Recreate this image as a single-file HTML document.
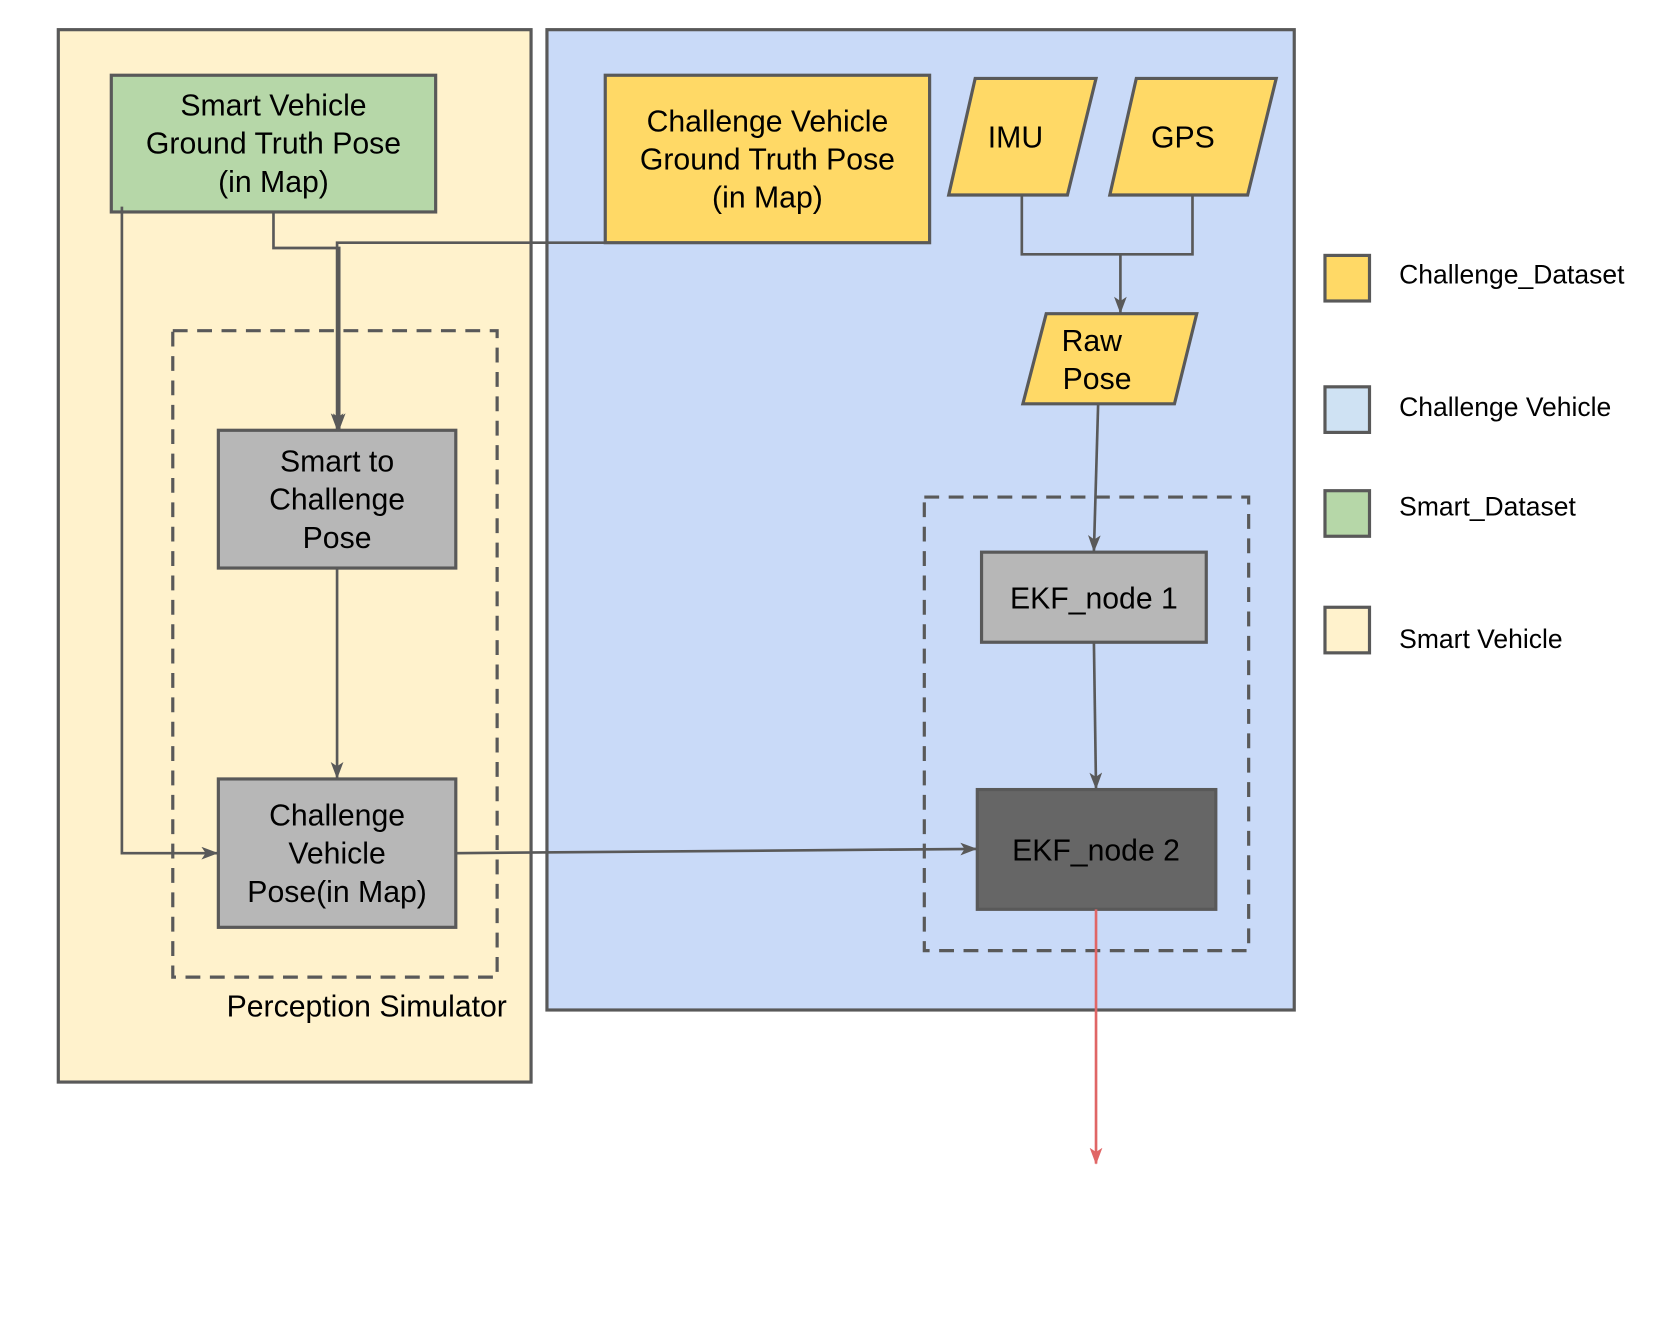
<!DOCTYPE html>
<html><head><meta charset="utf-8"><style>html,body{margin:0;padding:0;background:#fff}svg{display:block}</style></head>
<body>
<svg width="1661" height="1329" viewBox="0 0 1567 1254" preserveAspectRatio="none" xmlns="http://www.w3.org/2000/svg" font-family="Liberation Sans, sans-serif">
<defs>
<marker id="a" viewBox="0 0 16 12" refX="15" refY="6" markerWidth="16" markerHeight="12" orient="auto" markerUnits="userSpaceOnUse">
<path d="M0,0 L16,6 L0,12 L4,6 Z" fill="#595959"/>
</marker>
<marker id="r" viewBox="0 0 16 12" refX="15" refY="6" markerWidth="16" markerHeight="12" orient="auto" markerUnits="userSpaceOnUse">
<path d="M0,0 L16,6 L0,12 L4,6 Z" fill="#e06666"/>
</marker>
</defs>
<g stroke="#595959" stroke-width="3">
<rect x="55" y="28" width="446" height="993" fill="#fff2cc"/>
<rect x="516" y="28" width="705" height="925" fill="#c9daf8"/>
<rect x="105" y="71" width="306" height="129" fill="#b6d7a8"/>
<rect x="571" y="71" width="306" height="158" fill="#ffd966"/>
<polygon points="920,74 1034,74 1007,184 895,184" fill="#ffd966"/>
<polygon points="1072,74 1204,74 1177,184 1047,184" fill="#ffd966"/>
<polygon points="987,296 1129,296 1108,381 965,381" fill="#ffd966"/>
<rect x="872" y="469" width="306" height="428" fill="none" stroke-dasharray="14,9"/>
<rect x="163" y="312" width="306" height="610" fill="none" stroke-dasharray="14,9"/>
<rect x="926" y="521" width="212" height="85" fill="#b7b7b7"/>
<rect x="922" y="745" width="225" height="113" fill="#666666"/>
<rect x="206" y="406" width="224" height="130" fill="#b7b7b7"/>
<rect x="206" y="735" width="224" height="140" fill="#b7b7b7"/>
<rect x="1250" y="241" width="42" height="43" fill="#ffd966"/>
<rect x="1250" y="365" width="42" height="43" fill="#cfe2f3"/>
<rect x="1250" y="463" width="42" height="43" fill="#b6d7a8"/>
<rect x="1250" y="573" width="42" height="43" fill="#fff2cc"/>
</g>
<g stroke="#595959" stroke-width="2.5" fill="none">
<polyline points="964,184 964,240 1125,240 1125,184"/>
<line x1="1057" y1="240" x2="1057" y2="295" marker-end="url(#a)"/>
<line x1="1036" y1="381" x2="1032" y2="520" marker-end="url(#a)"/>
<line x1="1032" y1="606" x2="1034" y2="744" marker-end="url(#a)"/>
<polyline points="258,200 258,234 320,234 320,405" marker-end="url(#a)"/>
<polyline points="571,229 318,229 318,405" marker-end="url(#a)"/>
<line x1="318" y1="536" x2="318" y2="734" marker-end="url(#a)"/>
<polyline points="115,195 115,805 205,805" marker-end="url(#a)"/>
<line x1="430" y1="805" x2="921" y2="801" marker-end="url(#a)"/>
</g>
<line x1="1034" y1="858" x2="1034" y2="1098" stroke="#e06666" stroke-width="2.5" marker-end="url(#r)"/>
<g font-size="28.5" fill="#000" text-anchor="middle" dominant-baseline="central">
<text x="258" y="100">Smart Vehicle</text><text x="258" y="136">Ground Truth Pose</text><text x="258" y="172">(in Map)</text>
<text x="724" y="115">Challenge Vehicle</text><text x="724" y="151">Ground Truth Pose</text><text x="724" y="187">(in Map)</text>
<text x="958" y="130">IMU</text><text x="1116" y="130">GPS</text>
<text x="1030" y="322">Raw</text><text x="1035" y="358">Pose</text>
<text x="1032" y="565">EKF_node 1</text><text x="1034" y="803">EKF_node 2</text>
<text x="318" y="436">Smart to</text><text x="318" y="472">Challenge</text><text x="318" y="508">Pose</text>
<text x="318" y="770">Challenge</text><text x="318" y="806">Vehicle</text><text x="318" y="842">Pose(in Map)</text>
<text x="346" y="950">Perception Simulator</text>
</g>
<g font-size="25" fill="#000" dominant-baseline="central">
<text x="1320" y="259">Challenge_Dataset</text>
<text x="1320" y="384">Challenge Vehicle</text>
<text x="1320" y="478">Smart_Dataset</text>
<text x="1320" y="603">Smart Vehicle</text>
</g>
</svg>
</body></html>
